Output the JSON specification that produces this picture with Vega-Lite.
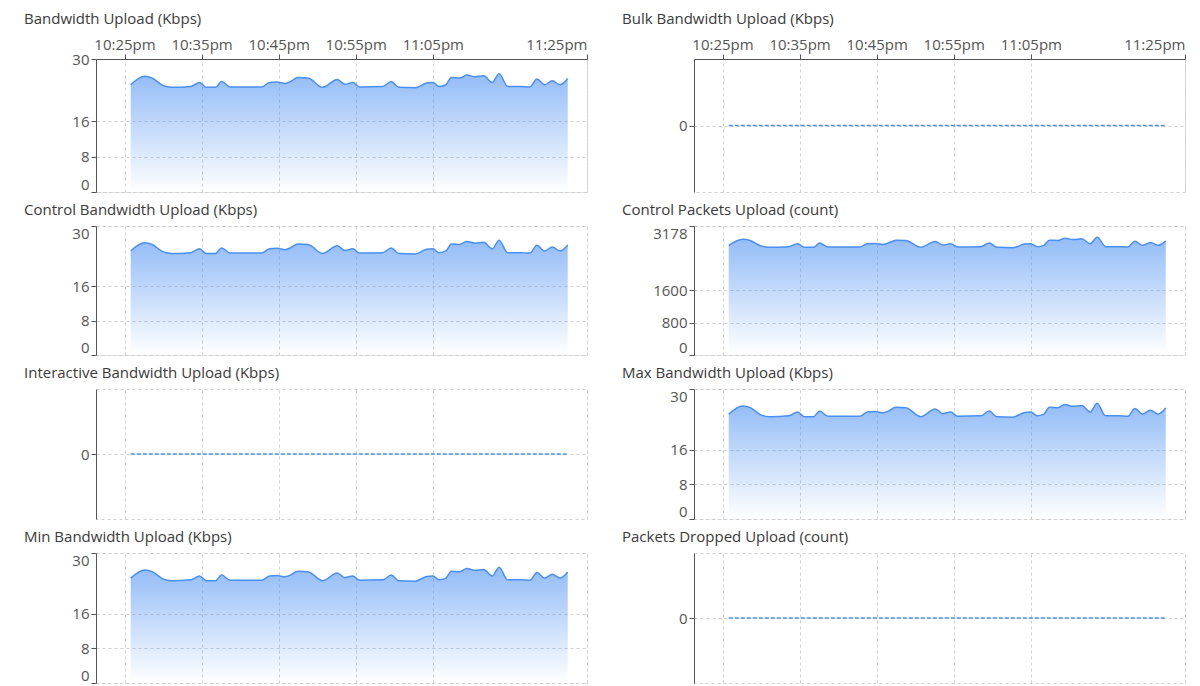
{
  "$schema": "https://vega.github.io/schema/vega-lite/v6.json",
  "padding": {"left": 23, "top": 11, "right": 5, "bottom": 2},
  "background": "#ffffff",
  "spacing": 9,
  "datasets": {
    "d": [
      {"t": "2024-01-01T22:25:48", "bw": 24.2, "pk": 2701, "z": 0},
      {"t": "2024-01-01T22:27:36", "bw": 26.1, "pk": 2853, "z": 0},
      {"t": "2024-01-01T22:28:36", "bw": 25.7, "pk": 2821, "z": 0},
      {"t": "2024-01-01T22:29:54", "bw": 24.1, "pk": 2693, "z": 0},
      {"t": "2024-01-01T22:31:06", "bw": 23.6, "pk": 2653, "z": 0},
      {"t": "2024-01-01T22:33:36", "bw": 23.8, "pk": 2669, "z": 0},
      {"t": "2024-01-01T22:34:45", "bw": 24.7, "pk": 2741, "z": 0},
      {"t": "2024-01-01T22:35:36", "bw": 23.6, "pk": 2653, "z": 0},
      {"t": "2024-01-01T22:36:48", "bw": 23.6, "pk": 2653, "z": 0},
      {"t": "2024-01-01T22:37:36", "bw": 24.9, "pk": 2757, "z": 0},
      {"t": "2024-01-01T22:38:42", "bw": 23.7, "pk": 2661, "z": 0},
      {"t": "2024-01-01T22:42:48", "bw": 23.7, "pk": 2661, "z": 0},
      {"t": "2024-01-01T22:43:48", "bw": 24.7, "pk": 2741, "z": 0},
      {"t": "2024-01-01T22:44:48", "bw": 24.8, "pk": 2749, "z": 0},
      {"t": "2024-01-01T22:45:48", "bw": 24.5, "pk": 2725, "z": 0},
      {"t": "2024-01-01T22:46:30", "bw": 24.9, "pk": 2757, "z": 0},
      {"t": "2024-01-01T22:47:30", "bw": 25.8, "pk": 2829, "z": 0},
      {"t": "2024-01-01T22:48:48", "bw": 25.7, "pk": 2821, "z": 0},
      {"t": "2024-01-01T22:50:42", "bw": 23.6, "pk": 2653, "z": 0},
      {"t": "2024-01-01T22:52:36", "bw": 25.4, "pk": 2797, "z": 0},
      {"t": "2024-01-01T22:53:36", "bw": 24.3, "pk": 2709, "z": 0},
      {"t": "2024-01-01T22:54:36", "bw": 24.7, "pk": 2741, "z": 0},
      {"t": "2024-01-01T22:55:30", "bw": 23.7, "pk": 2661, "z": 0},
      {"t": "2024-01-01T22:58:30", "bw": 23.8, "pk": 2669, "z": 0},
      {"t": "2024-01-01T22:59:36", "bw": 24.9, "pk": 2757, "z": 0},
      {"t": "2024-01-01T23:00:36", "bw": 23.6, "pk": 2653, "z": 0},
      {"t": "2024-01-01T23:02:42", "bw": 23.5, "pk": 2645, "z": 0},
      {"t": "2024-01-01T23:04:12", "bw": 24.6, "pk": 2733, "z": 0},
      {"t": "2024-01-01T23:05:00", "bw": 24.7, "pk": 2741, "z": 0},
      {"t": "2024-01-01T23:05:48", "bw": 23.8, "pk": 2669, "z": 0},
      {"t": "2024-01-01T23:06:42", "bw": 24.2, "pk": 2701, "z": 0},
      {"t": "2024-01-01T23:07:24", "bw": 25.8, "pk": 2829, "z": 0},
      {"t": "2024-01-01T23:08:30", "bw": 25.7, "pk": 2821, "z": 0},
      {"t": "2024-01-01T23:09:24", "bw": 26.4, "pk": 2877, "z": 0},
      {"t": "2024-01-01T23:10:30", "bw": 26.0, "pk": 2845, "z": 0},
      {"t": "2024-01-01T23:11:36", "bw": 26.2, "pk": 2861, "z": 0},
      {"t": "2024-01-01T23:12:42", "bw": 24.7, "pk": 2741, "z": 0},
      {"t": "2024-01-01T23:13:36", "bw": 26.7, "pk": 2901, "z": 0},
      {"t": "2024-01-01T23:14:42", "bw": 23.8, "pk": 2669, "z": 0},
      {"t": "2024-01-01T23:16:24", "bw": 23.8, "pk": 2669, "z": 0},
      {"t": "2024-01-01T23:17:36", "bw": 23.7, "pk": 2661, "z": 0},
      {"t": "2024-01-01T23:18:30", "bw": 25.5, "pk": 2805, "z": 0},
      {"t": "2024-01-01T23:19:30", "bw": 24.2, "pk": 2701, "z": 0},
      {"t": "2024-01-01T23:20:30", "bw": 25.1, "pk": 2773, "z": 0},
      {"t": "2024-01-01T23:21:30", "bw": 24.2, "pk": 2701, "z": 0},
      {"t": "2024-01-01T23:22:30", "bw": 25.6, "pk": 2813, "z": 0}
    ]
  },
  "vconcat": [
    {
      "spacing": 33,
      "hconcat": [
        {
          "width": 491, "height": 133,
          "title": {"text": "Bandwidth Upload (Kbps)", "anchor": "start", "frame": "group", "dx": -72, "offset": 10, "fontSize": 15},
          "data": {"name": "d"},
          "encoding": {
            "x": {"field": "t", "type": "temporal", "scale": {"domain": [{"year": 2024, "month": 1, "date": 1, "hours": 22, "minutes": 21, "seconds": 18}, {"year": 2024, "month": 1, "date": 1, "hours": 23, "minutes": 25}]},
              "axis": {"orient": "top", "values": [{"year": 2024, "month": 1, "date": 1, "hours": 22, "minutes": 25}, {"year": 2024, "month": 1, "date": 1, "hours": 22, "minutes": 35}, {"year": 2024, "month": 1, "date": 1, "hours": 22, "minutes": 45}, {"year": 2024, "month": 1, "date": 1, "hours": 22, "minutes": 55}, {"year": 2024, "month": 1, "date": 1, "hours": 23, "minutes": 5}, {"year": 2024, "month": 1, "date": 1, "hours": 23, "minutes": 25}],
                "labelExpr": "lower(timeFormat(datum.value, '%-I:%M%p'))", "labelFlush": true, "labelOverlap": false, "grid": true, "domain": true, "ticks": true}},
            "y": {"field": "bw", "type": "quantitative", "scale": {"domain": [0, 30], "nice": false}, "axis": {"values": [0, 8, 16, 30], "labelBaseline": {"expr": "datum.value == 0 ? 'bottom' : 'middle'"}}}
          },
          "layer": [
            {"mark": {"type": "area", "interpolate": "monotone", "fill": {"gradient": "linear", "x1": 0, "y1": 0, "x2": 0, "y2": 1, "stops": [{"offset": 0, "color": "rgba(74,143,242,0.6)"}, {"offset": 1, "color": "rgba(74,143,242,0)"}]}}},
            {"mark": {"type": "line", "interpolate": "monotone", "color": "#4a8ff2", "strokeWidth": 1.5}}
          ]
        },
        {
          "width": 491, "height": 133,
          "title": {"text": "Bulk Bandwidth Upload (Kbps)", "anchor": "start", "frame": "group", "dx": -72, "offset": 10, "fontSize": 15},
          "data": {"name": "d"},
          "encoding": {
            "x": {"field": "t", "type": "temporal", "scale": {"domain": [{"year": 2024, "month": 1, "date": 1, "hours": 22, "minutes": 21, "seconds": 18}, {"year": 2024, "month": 1, "date": 1, "hours": 23, "minutes": 25}]},
              "axis": {"orient": "top", "values": [{"year": 2024, "month": 1, "date": 1, "hours": 22, "minutes": 25}, {"year": 2024, "month": 1, "date": 1, "hours": 22, "minutes": 35}, {"year": 2024, "month": 1, "date": 1, "hours": 22, "minutes": 45}, {"year": 2024, "month": 1, "date": 1, "hours": 22, "minutes": 55}, {"year": 2024, "month": 1, "date": 1, "hours": 23, "minutes": 5}, {"year": 2024, "month": 1, "date": 1, "hours": 23, "minutes": 25}],
                "labelExpr": "lower(timeFormat(datum.value, '%-I:%M%p'))", "labelFlush": true, "labelOverlap": false, "grid": true, "domain": true, "ticks": true}},
            "y": {"field": "z", "type": "quantitative", "scale": {"domain": [-1, 1], "nice": false}, "axis": {"values": [0]}}
          },
          "layer": [
            {"mark": {"type": "line", "color": "#4a8ff2", "strokeWidth": 1.5, "strokeDash": [4, 2]}}
          ]
        }
      ]
    },
    {
      "spacing": 33,
      "hconcat": [
        {
          "width": 491, "height": 129,
          "title": {"text": "Control Bandwidth Upload (Kbps)", "anchor": "start", "frame": "group", "dx": -72, "offset": 8, "fontSize": 15},
          "data": {"name": "d"},
          "encoding": {
            "x": {"field": "t", "type": "temporal", "scale": {"domain": [{"year": 2024, "month": 1, "date": 1, "hours": 22, "minutes": 21, "seconds": 18}, {"year": 2024, "month": 1, "date": 1, "hours": 23, "minutes": 25}]},
              "axis": {"orient": "top", "values": [{"year": 2024, "month": 1, "date": 1, "hours": 22, "minutes": 25}, {"year": 2024, "month": 1, "date": 1, "hours": 22, "minutes": 35}, {"year": 2024, "month": 1, "date": 1, "hours": 22, "minutes": 45}, {"year": 2024, "month": 1, "date": 1, "hours": 22, "minutes": 55}, {"year": 2024, "month": 1, "date": 1, "hours": 23, "minutes": 5}, {"year": 2024, "month": 1, "date": 1, "hours": 23, "minutes": 25}],
                "labels": false, "ticks": false, "domain": false, "grid": true, "minExtent": 0, "maxExtent": 0}},
            "y": {"field": "bw", "type": "quantitative", "scale": {"domain": [0, 30], "nice": false}, "axis": {"values": [0, 8, 16, 30], "labelFlush": true}}
          },
          "layer": [
            {"mark": {"type": "area", "interpolate": "monotone", "fill": {"gradient": "linear", "x1": 0, "y1": 0, "x2": 0, "y2": 1, "stops": [{"offset": 0, "color": "rgba(74,143,242,0.6)"}, {"offset": 1, "color": "rgba(74,143,242,0)"}]}}},
            {"mark": {"type": "line", "interpolate": "monotone", "color": "#4a8ff2", "strokeWidth": 1.5}}
          ]
        },
        {
          "width": 491, "height": 129,
          "title": {"text": "Control Packets Upload (count)", "anchor": "start", "frame": "group", "dx": -72, "offset": 8, "fontSize": 15},
          "data": {"name": "d"},
          "encoding": {
            "x": {"field": "t", "type": "temporal", "scale": {"domain": [{"year": 2024, "month": 1, "date": 1, "hours": 22, "minutes": 21, "seconds": 18}, {"year": 2024, "month": 1, "date": 1, "hours": 23, "minutes": 25}]},
              "axis": {"orient": "top", "values": [{"year": 2024, "month": 1, "date": 1, "hours": 22, "minutes": 25}, {"year": 2024, "month": 1, "date": 1, "hours": 22, "minutes": 35}, {"year": 2024, "month": 1, "date": 1, "hours": 22, "minutes": 45}, {"year": 2024, "month": 1, "date": 1, "hours": 22, "minutes": 55}, {"year": 2024, "month": 1, "date": 1, "hours": 23, "minutes": 5}, {"year": 2024, "month": 1, "date": 1, "hours": 23, "minutes": 25}],
                "labels": false, "ticks": false, "domain": false, "grid": true, "minExtent": 0, "maxExtent": 0}},
            "y": {"field": "pk", "type": "quantitative", "scale": {"domain": [0, 3178], "nice": false}, "axis": {"values": [0, 800, 1600, 3178], "format": "d", "labelFlush": true}}
          },
          "layer": [
            {"mark": {"type": "area", "interpolate": "monotone", "fill": {"gradient": "linear", "x1": 0, "y1": 0, "x2": 0, "y2": 1, "stops": [{"offset": 0, "color": "rgba(74,143,242,0.6)"}, {"offset": 1, "color": "rgba(74,143,242,0)"}]}}},
            {"mark": {"type": "line", "interpolate": "monotone", "color": "#4a8ff2", "strokeWidth": 1.5}}
          ]
        }
      ]
    },
    {
      "spacing": 33,
      "hconcat": [
        {
          "width": 491, "height": 130,
          "title": {"text": "Interactive Bandwidth Upload (Kbps)", "anchor": "start", "frame": "group", "dx": -72, "offset": 8, "fontSize": 15},
          "data": {"name": "d"},
          "encoding": {
            "x": {"field": "t", "type": "temporal", "scale": {"domain": [{"year": 2024, "month": 1, "date": 1, "hours": 22, "minutes": 21, "seconds": 18}, {"year": 2024, "month": 1, "date": 1, "hours": 23, "minutes": 25}]},
              "axis": {"orient": "top", "values": [{"year": 2024, "month": 1, "date": 1, "hours": 22, "minutes": 25}, {"year": 2024, "month": 1, "date": 1, "hours": 22, "minutes": 35}, {"year": 2024, "month": 1, "date": 1, "hours": 22, "minutes": 45}, {"year": 2024, "month": 1, "date": 1, "hours": 22, "minutes": 55}, {"year": 2024, "month": 1, "date": 1, "hours": 23, "minutes": 5}, {"year": 2024, "month": 1, "date": 1, "hours": 23, "minutes": 25}],
                "labels": false, "ticks": false, "domain": false, "grid": true, "minExtent": 0, "maxExtent": 0}},
            "y": {"field": "z", "type": "quantitative", "scale": {"domain": [-1, 1], "nice": false}, "axis": {"values": [0]}}
          },
          "layer": [
            {"mark": {"type": "line", "color": "#4a8ff2", "strokeWidth": 1.5, "strokeDash": [4, 2]}}
          ]
        },
        {
          "width": 491, "height": 130,
          "title": {"text": "Max Bandwidth Upload (Kbps)", "anchor": "start", "frame": "group", "dx": -72, "offset": 8, "fontSize": 15},
          "data": {"name": "d"},
          "encoding": {
            "x": {"field": "t", "type": "temporal", "scale": {"domain": [{"year": 2024, "month": 1, "date": 1, "hours": 22, "minutes": 21, "seconds": 18}, {"year": 2024, "month": 1, "date": 1, "hours": 23, "minutes": 25}]},
              "axis": {"orient": "top", "values": [{"year": 2024, "month": 1, "date": 1, "hours": 22, "minutes": 25}, {"year": 2024, "month": 1, "date": 1, "hours": 22, "minutes": 35}, {"year": 2024, "month": 1, "date": 1, "hours": 22, "minutes": 45}, {"year": 2024, "month": 1, "date": 1, "hours": 22, "minutes": 55}, {"year": 2024, "month": 1, "date": 1, "hours": 23, "minutes": 5}, {"year": 2024, "month": 1, "date": 1, "hours": 23, "minutes": 25}],
                "labels": false, "ticks": false, "domain": false, "grid": true, "minExtent": 0, "maxExtent": 0}},
            "y": {"field": "bw", "type": "quantitative", "scale": {"domain": [0, 30], "nice": false}, "axis": {"values": [0, 8, 16, 30], "labelFlush": true}}
          },
          "layer": [
            {"mark": {"type": "area", "interpolate": "monotone", "fill": {"gradient": "linear", "x1": 0, "y1": 0, "x2": 0, "y2": 1, "stops": [{"offset": 0, "color": "rgba(74,143,242,0.6)"}, {"offset": 1, "color": "rgba(74,143,242,0)"}]}}},
            {"mark": {"type": "line", "interpolate": "monotone", "color": "#4a8ff2", "strokeWidth": 1.5}}
          ]
        }
      ]
    },
    {
      "spacing": 33,
      "hconcat": [
        {
          "width": 491, "height": 130,
          "title": {"text": "Min Bandwidth Upload (Kbps)", "anchor": "start", "frame": "group", "dx": -72, "offset": 8, "fontSize": 15},
          "data": {"name": "d"},
          "encoding": {
            "x": {"field": "t", "type": "temporal", "scale": {"domain": [{"year": 2024, "month": 1, "date": 1, "hours": 22, "minutes": 21, "seconds": 18}, {"year": 2024, "month": 1, "date": 1, "hours": 23, "minutes": 25}]},
              "axis": {"orient": "top", "values": [{"year": 2024, "month": 1, "date": 1, "hours": 22, "minutes": 25}, {"year": 2024, "month": 1, "date": 1, "hours": 22, "minutes": 35}, {"year": 2024, "month": 1, "date": 1, "hours": 22, "minutes": 45}, {"year": 2024, "month": 1, "date": 1, "hours": 22, "minutes": 55}, {"year": 2024, "month": 1, "date": 1, "hours": 23, "minutes": 5}, {"year": 2024, "month": 1, "date": 1, "hours": 23, "minutes": 25}],
                "labels": false, "ticks": false, "domain": false, "grid": true, "minExtent": 0, "maxExtent": 0}},
            "y": {"field": "bw", "type": "quantitative", "scale": {"domain": [0, 30], "nice": false}, "axis": {"values": [0, 8, 16, 30], "labelFlush": true}}
          },
          "layer": [
            {"mark": {"type": "area", "interpolate": "monotone", "fill": {"gradient": "linear", "x1": 0, "y1": 0, "x2": 0, "y2": 1, "stops": [{"offset": 0, "color": "rgba(74,143,242,0.6)"}, {"offset": 1, "color": "rgba(74,143,242,0)"}]}}},
            {"mark": {"type": "line", "interpolate": "monotone", "color": "#4a8ff2", "strokeWidth": 1.5}}
          ]
        },
        {
          "width": 491, "height": 130,
          "title": {"text": "Packets Dropped Upload (count)", "anchor": "start", "frame": "group", "dx": -72, "offset": 8, "fontSize": 15},
          "data": {"name": "d"},
          "encoding": {
            "x": {"field": "t", "type": "temporal", "scale": {"domain": [{"year": 2024, "month": 1, "date": 1, "hours": 22, "minutes": 21, "seconds": 18}, {"year": 2024, "month": 1, "date": 1, "hours": 23, "minutes": 25}]},
              "axis": {"orient": "top", "values": [{"year": 2024, "month": 1, "date": 1, "hours": 22, "minutes": 25}, {"year": 2024, "month": 1, "date": 1, "hours": 22, "minutes": 35}, {"year": 2024, "month": 1, "date": 1, "hours": 22, "minutes": 45}, {"year": 2024, "month": 1, "date": 1, "hours": 22, "minutes": 55}, {"year": 2024, "month": 1, "date": 1, "hours": 23, "minutes": 5}, {"year": 2024, "month": 1, "date": 1, "hours": 23, "minutes": 25}],
                "labels": false, "ticks": false, "domain": false, "grid": true, "minExtent": 0, "maxExtent": 0}},
            "y": {"field": "z", "type": "quantitative", "scale": {"domain": [-1, 1], "nice": false}, "axis": {"values": [0]}}
          },
          "layer": [
            {"mark": {"type": "line", "color": "#4a8ff2", "strokeWidth": 1.5, "strokeDash": [4, 2]}}
          ]
        }
      ]
    }
  ],
  "config": {
    "font": "Open Sans",
    "view": {"stroke": "#d0d0d0", "strokeDash": [3, 3], "strokeWidth": 1},
    "axis": {"title": null, "labelFont": "Open Sans", "labelFontSize": 15, "labelColor": "#555555", "domainColor": "#555555", "tickColor": "#555555", "tickSize": 5, "labelPadding": 2, "gridColor": "#d0d0d0", "gridDash": [3, 3], "gridWidth": 1},
    "title": {"font": "Open Sans", "fontSize": 15, "fontWeight": "normal", "color": "#3a3a3a"}
  }
}
